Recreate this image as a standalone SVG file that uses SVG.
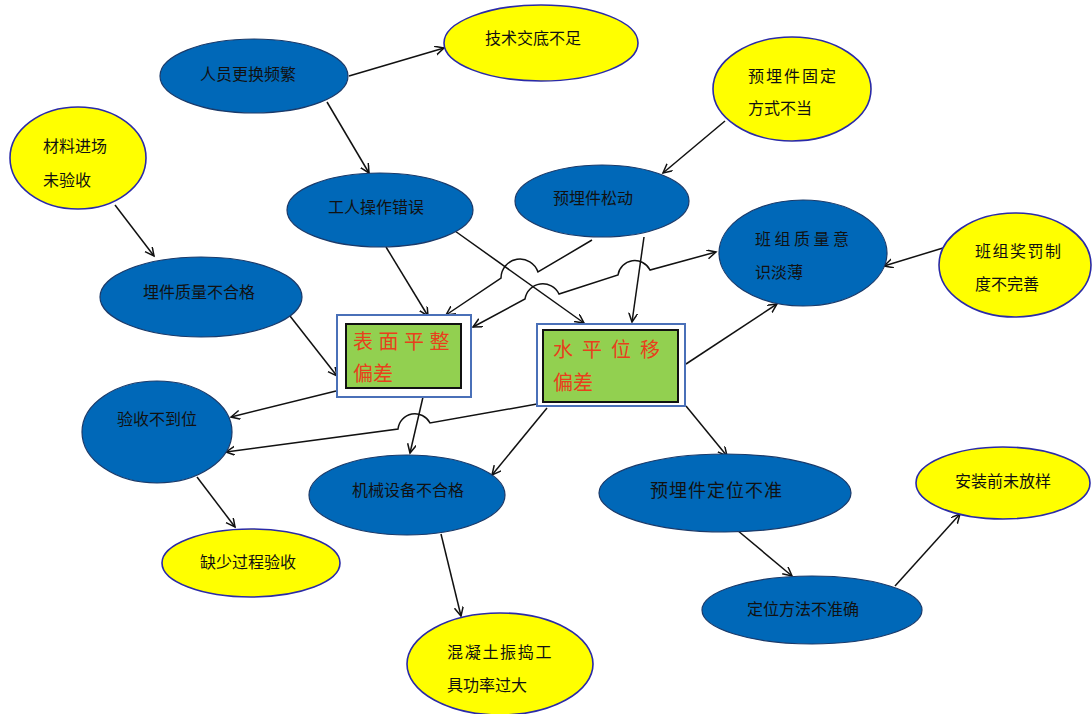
<svg xmlns="http://www.w3.org/2000/svg" width="1092" height="714" viewBox="0 0 1092 714">
<defs>
<marker id="arr" markerUnits="userSpaceOnUse" markerWidth="12" markerHeight="12" refX="9" refY="4.5" orient="auto-start-reverse">
<path d="M0,0 L9,4.5 L0,9" fill="none" stroke="#111" stroke-width="1.5"/>
</marker>
<style>
.b{fill:#0068b8;stroke:#1a3a6a;stroke-width:1.2}
.y{fill:#ffff00;stroke:#2a2aa8;stroke-width:1.6}
.t{font-family:"Noto Sans CJK SC","Noto Sans",sans-serif;font-size:16px;fill:#111}
.r{font-family:"Noto Sans CJK SC","Noto Sans",sans-serif;font-size:20px;fill:#e8401c}
.c{fill:none;stroke:#111;stroke-width:1.5;marker-end:url(#arr)}
.ob{fill:#fff;stroke:#4a70b8;stroke-width:2}
.ib{fill:#92d050;stroke:#111;stroke-width:2}
</style>
</defs>
<rect width="1092" height="714" fill="#fff"/>
<g id="connectors">
<path class="c" d="M349,76 L444,48"/>
<path class="c" d="M327,102 L369,173"/>
<path class="c" d="M115,205 L154,256"/>
<path class="c" d="M725,121 L663,173"/>
<path class="c" d="M943,248 L884,266"/>
<path class="c" d="M386,247 L428,316"/>
<path class="c" d="M455,231 L584,323"/>
<path class="c" d="M592,240 L538,272 A19,19 0 0 0 501,278 L446,315"/>
<path class="c" d="M644,237 L632,322"/>
<path class="c" style="marker-start:url(#arr)" d="M473,327 L525,299 A18,18 0 0 1 559,294 L618,275 A17,17 0 0 1 650,270 L716,252"/>
<path class="c" d="M686,364 L777,304"/>
<path class="c" d="M290,316 L337,376"/>
<path class="c" d="M336,391 L231,417"/>
<path class="c" d="M537,404 L430,423 A17,17 0 0 0 398,429 L226,452"/>
<path class="c" d="M423,397 L410,453"/>
<path class="c" d="M547,408 L492,475"/>
<path class="c" d="M686,406 L727,456"/>
<path class="c" d="M197,477 L235,527"/>
<path class="c" d="M441,534 L461,616"/>
<path class="c" d="M737,530 L792,576"/>
<path class="c" d="M895,586 L960,514"/>
</g>
<g id="n1"><ellipse class="b" cx="254" cy="76" rx="94" ry="37"/><text class="t" x="200" y="80">人员更换频繁</text></g>
<g id="n2"><ellipse class="y" cx="541" cy="43" rx="97" ry="38"/><text class="t" x="485" y="44">技术交底不足</text></g>
<g id="n3"><ellipse class="y" cx="792" cy="89" rx="79" ry="52"/><text class="t" x="748" y="82" letter-spacing="2">预埋件固定</text><text class="t" x="748" y="114">方式不当</text></g>
<g id="n4"><ellipse class="y" cx="78" cy="158" rx="68" ry="51"/><text class="t" x="43" y="152">材料进场</text><text class="t" x="43" y="186">未验收</text></g>
<g id="n5"><ellipse class="b" cx="380" cy="210" rx="93" ry="37"/><text class="t" x="328" y="213">工人操作错误</text></g>
<g id="n6"><ellipse class="b" cx="602" cy="201" rx="87" ry="36"/><text class="t" x="553" y="204">预埋件松动</text></g>
<g id="n7"><ellipse class="b" cx="803" cy="253" rx="84" ry="53"/><text class="t" x="755" y="245" letter-spacing="3.5">班组质量意</text><text class="t" x="755" y="278">识淡薄</text></g>
<g id="n8"><ellipse class="y" cx="1015" cy="265" rx="76" ry="52"/><text class="t" x="975" y="257" letter-spacing="1.5">班组奖罚制</text><text class="t" x="975" y="290">度不完善</text></g>
<g id="n9"><ellipse class="b" cx="201" cy="297" rx="101" ry="40"/><text class="t" x="143" y="298">埋件质量不合格</text></g>
<g id="n10"><rect class="ob" x="337" y="315" width="134" height="82"/><rect class="ib" x="346" y="324" width="115" height="64"/><text class="r" x="353" y="349" letter-spacing="5.5">表面平整</text><text class="r" x="353" y="381">偏差</text></g>
<g id="n11"><rect class="ob" x="537" y="324" width="148" height="82"/><rect class="ib" x="543" y="330" width="135" height="72"/><text class="r" x="553" y="357" letter-spacing="9">水平位移</text><text class="r" x="553" y="390">偏差</text></g>
<g id="n12"><ellipse class="b" cx="157" cy="432" rx="75" ry="51"/><text class="t" x="117" y="425">验收不到位</text></g>
<g id="n13"><ellipse class="b" cx="407" cy="495" rx="98" ry="40"/><text class="t" x="352" y="496">机械设备不合格</text></g>
<g id="n14"><ellipse class="y" cx="251" cy="563" rx="89" ry="34"/><text class="t" x="200" y="568">缺少过程验收</text></g>
<g id="n15"><ellipse class="y" cx="500" cy="664" rx="93" ry="51"/><text class="t" x="447" y="658" letter-spacing="1.7">混凝土振捣工</text><text class="t" x="447" y="691">具功率过大</text></g>
<g id="n16"><ellipse class="b" cx="725" cy="493" rx="126" ry="39"/><text class="t" x="650" y="497" style="font-size:18px" letter-spacing="1">预埋件定位不准</text></g>
<g id="n17"><ellipse class="b" cx="812" cy="610" rx="110" ry="34"/><text class="t" x="747" y="615">定位方法不准确</text></g>
<g id="n18"><ellipse class="y" cx="1003" cy="483" rx="87" ry="36"/><text class="t" x="955" y="487">安装前未放样</text></g>
</svg>
